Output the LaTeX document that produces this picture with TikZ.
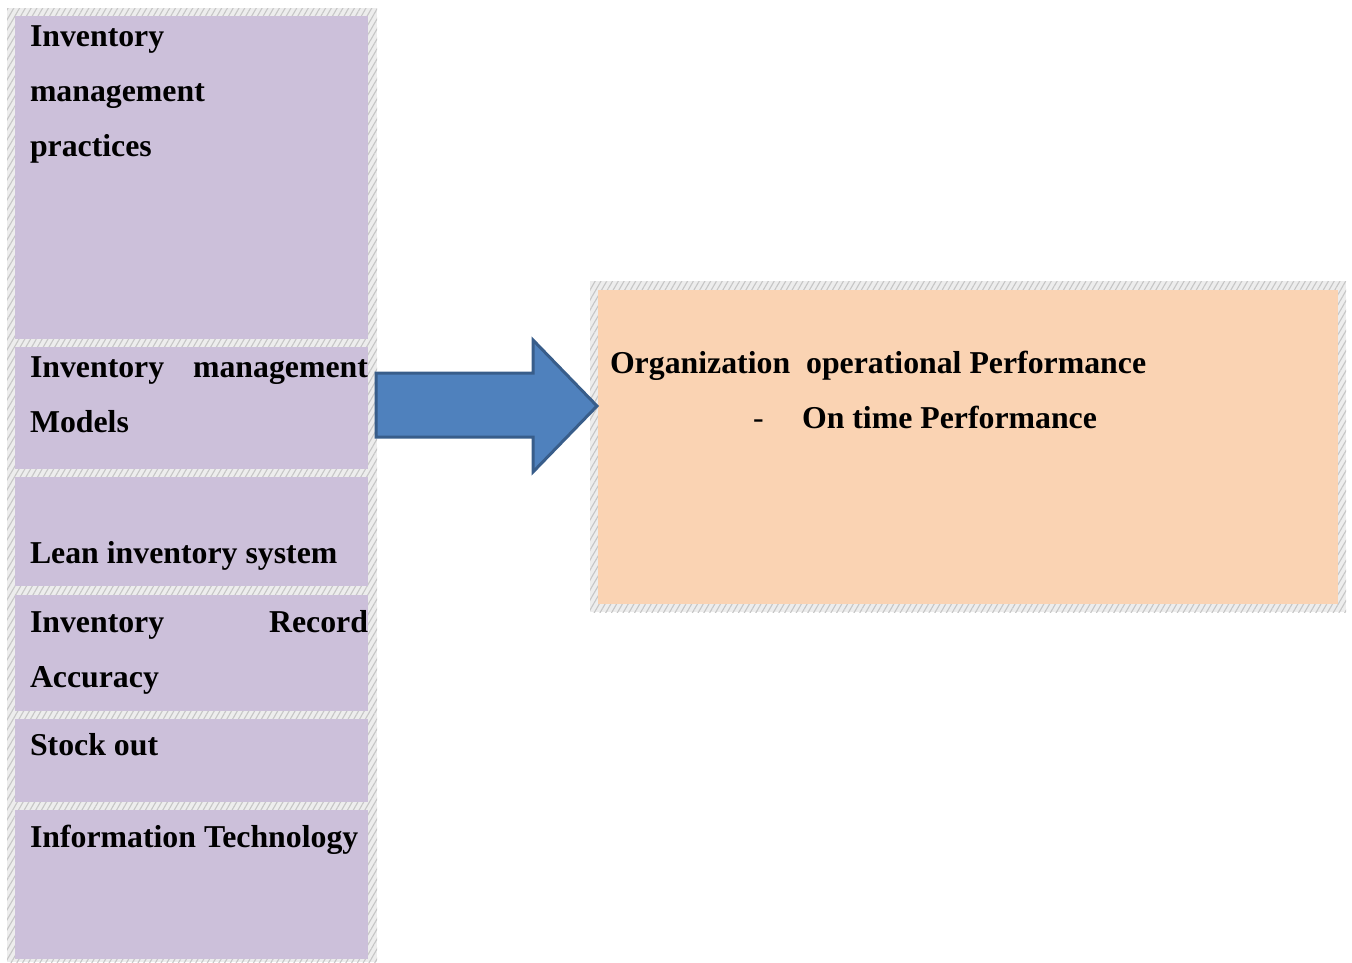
\documentclass[tikz,border=0pt]{standalone}
\usepackage{fontspec}
\setmainfont{Liberation Serif}
\usetikzlibrary{patterns.meta}
\definecolor{cellpurple}{HTML}{CCC0DA}
\definecolor{peach}{HTML}{FAD3B3}
\definecolor{arrowblue}{HTML}{4F81BD}
\definecolor{arrowedge}{HTML}{385D8A}
\begin{document}
\begin{tikzpicture}[x=1pt,y=-1pt,
  hatch/.style={draw=none, preaction={fill=gray!14},
    pattern={Lines[angle=60,distance=5pt,line width=1.1pt]}, pattern color=gray!45},
  cell/.style={draw=none, fill=cellpurple, inner sep=0pt, outer sep=0pt, anchor=north west},
  goalbox/.style={draw=none, fill=peach, inner sep=0pt, outer sep=0pt, anchor=north west},
  txt/.style={anchor=base west, inner sep=0pt, outer sep=0pt, text=black,
    font=\fontsize{31.8}{55}\selectfont\bfseries},
  plain/.style={anchor=base west, inner sep=0pt, outer sep=0pt, text=black,
    font=\fontsize{31.8}{55}\selectfont},
  blockarrow/.style={fill=arrowblue, draw=arrowedge, line width=3pt, line join=miter}
]
\useasboundingbox (0,0) rectangle (1352,962);

% left column frame
\path[hatch] (7,8) rectangle (377,962);
\node[cell, minimum width=353pt, minimum height=323pt] (c1) at (15,16) {};
\node[cell, minimum width=353pt, minimum height=122pt] (c2) at (15,347) {};
\node[cell, minimum width=353pt, minimum height=109pt] (c3) at (15,477) {};
\node[cell, minimum width=353pt, minimum height=116pt] (c4) at (15,595) {};
\node[cell, minimum width=353pt, minimum height=83pt]  (c5) at (15,719) {};
\node[cell, minimum width=353pt, minimum height=149pt] (c6) at (15,810) {};

% right box frame
\path[hatch] (590,281) rectangle (1346,612);
\node[goalbox, minimum width=740pt, minimum height=314pt] (goal) at (598,290) {};

% left texts
\node[txt] (t1a) at (30,46) {Inventory};
\node[txt] (t1b) at (30,101) {management};
\node[txt] (t1c) at (30,156) {practices};
\node[txt] (t2a) at (30,377) {\makebox[338pt][s]{Inventory management}};
\node[txt] (t2b) at (30,432) {Models};
\node[txt] (t3a) at (30,563) {Lean inventory system};
\node[txt] (t4a) at (30,632) {\makebox[338pt][s]{Inventory Record}};
\node[txt] (t4b) at (30,687) {Accuracy};
\node[txt] (t5a) at (30,755) {Stock out};
\node[txt] (t6a) at (30,847) {Information Technology};

% right texts
\node[txt] (g1) at (610,373) {Organization\ \ operational Performance};
\node[plain] (g2) at (753,428) {-};
\node[txt] (g3) at (802,428) {On time Performance};

% block arrow
\coordinate (tailtop) at (376,373);
\coordinate (tailbot) at (376,437);
\coordinate (tip) at (597,406);
\draw[blockarrow] (tailtop) -- (533,373) -- (533,340) -- (tip) -- (533,472) -- (533,437) -- (tailbot) -- cycle;
\end{tikzpicture}
\end{document}
